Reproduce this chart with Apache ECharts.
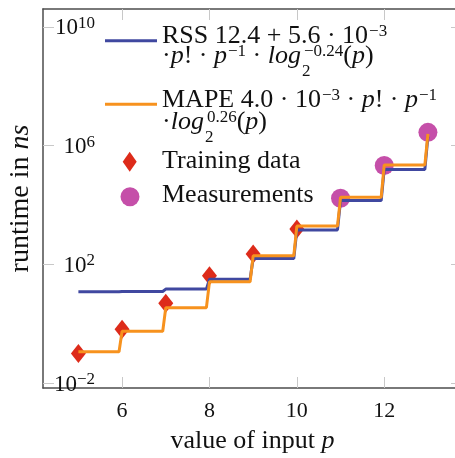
<!DOCTYPE html>
<html>
<head>
<meta charset="utf-8">
<script src="https://cdn.jsdelivr.net/npm/echarts@6/dist/echarts.min.js"></script>
<style>
  html, body { margin: 0; padding: 0; background: #fff; }
  #main { width: 455px; height: 458px; }
</style>
</head>
<body>
<div id="main"></div>
<script>
// value of input p for the two fitted models
const pFit = [5, 6, 7, 8, 9, 10, 11, 12, 13];
// runtime in ns
const rssFit = [12.0, 12.3, 14.8, 31.6, 158, 1450, 14100, 158000, 2.0e6];
const mapeFit = [0.115, 0.56, 3.5, 26, 195, 1950, 18200, 224000, 2.5e6];

const pTrain = [5, 6, 7, 8, 9, 10];
const trainValues = [0.1, 0.66, 4.9, 42, 224, 1550];

const pMeasure = [11, 12, 13];
const measureValues = [17000, 214000, 2.8e6];

const xTicks = [6, 8, 10, 12];
const yTickExponents = [-2, 2, 6, 10];

const serif = '"Liberation Serif", "DejaVu Serif", serif';
const ink = '#111';

// y axis is drawn in decades, so hand the library log10 of the runtime
function toPoints(ps, vals) {
  return ps.map((p, i) => [p, Math.log10(vals[i])]);
}

// the fits are piecewise constant between integer p, with a short rise just before the next p
function stepPoints(ps, vals) {
  const out = [];
  for (let i = 0; i < ps.length; i++) {
    out.push([ps[i], Math.log10(vals[i])]);
    if (i < ps.length - 1) out.push([ps[i] + 0.93, Math.log10(vals[i])]);
  }
  return out;
}

function minus(n) {
  return n < 0 ? '\u2212' + (-n) : String(n);
}

// rich text pieces: base, italic, superscript, subscript (sub is 1px wide so the sup stacks over it)
const fs = 26;
const textRich = {
  r: { fontFamily: serif, fontSize: fs, lineHeight: fs, verticalAlign: 'top', fill: ink },
  i: { fontFamily: serif, fontSize: fs, fontStyle: 'italic', lineHeight: fs, verticalAlign: 'top', fill: ink },
  s: { fontFamily: serif, fontSize: 17, lineHeight: fs, verticalAlign: 'top', padding: [0, 0, 0, 1], fill: ink },
  d: { fontFamily: serif, fontSize: 17, verticalAlign: 'top', padding: [20, 0, 0, 1], width: 1, fill: ink }
};

// legend entries: icon box (centre and size) and the text lines (top of each line)
const lineIcon = 'path://M0,0 H52 V3 H0 Z';
const legendEntries = [
  { name: 'RSS', icon: lineIcon, cx: 131, cy: 49.3, w: 52, h: 20, lines: [
    [23, '{r|RSS 12.4 + 5.6 · 10}{s|\u22123}'],
    [43, '{r|·}{i|p}{r|! · }{i|p}{s|\u22121}{r| · }{i|log}{d|2}{s|\u22120.24}{r|(}{i|p}{r|)}']
  ] },
  { name: 'MAPE', icon: lineIcon, cx: 131, cy: 112.7, w: 52, h: 20, lines: [
    [87, '{r|MAPE 4.0 · 10}{s|\u22123}{r| · }{i|p}{r|! · }{i|p}{s|\u22121}'],
    [109.5, '{r|·}{i|log}{d|2}{s|0.26}{r|(}{i|p}{r|)}']
  ] },
  { name: 'Training data', icon: 'path://M7,0 L14,10 L7,20 L0,10 Z', cx: 129.7, cy: 161.7, w: 14, h: 20, lines: [
    [148, '{r|Training data}']
  ] },
  { name: 'Measurements', icon: 'circle', cx: 130, cy: 196.7, w: 19, h: 19, lines: [
    [182, '{r|Measurements}']
  ] }
];

const textX = 162;

const legends = legendEntries.map(e => ({
  orient: 'vertical',
  left: e.cx - e.w / 2,
  top: e.cy - e.h / 2,
  padding: 0,
  itemWidth: e.w,
  itemHeight: e.h,
  formatter: () => '',
  textStyle: { fontSize: 1, lineHeight: 1 },
  data: [{ name: e.name, icon: e.icon }]
}));

const legendTexts = [];
legendEntries.forEach(e => {
  e.lines.forEach(([y, text]) => {
    legendTexts.push({
      type: 'text', x: textX, y: y, z: 100,
      style: { text: text, rich: textRich, align: 'left', verticalAlign: 'top' }
    });
  });
});

const chart = echarts.init(document.getElementById('main'));

const axisLine = { show: true, onZero: false, lineStyle: { color: '#4d4d4d', width: 1.5 } };
const tickStyle = { color: '#c8c8c8', width: 1 };

const option = {
  animation: false,
  backgroundColor: '#fff',
  grid: { left: 43, right: -7, top: 9, bottom: 70, containLabel: false, outerBoundsMode: 'none' },
  legend: legends,
  graphic: legendTexts,
  xAxis: [
    {
      type: 'value', min: 4.19, max: 13.78, position: 'bottom',
      axisLine: axisLine,
      axisTick: { inside: true, length: 11, lineStyle: tickStyle, customValues: xTicks },
      axisLabel: { customValues: xTicks, margin: 12, fontFamily: serif, fontSize: 22, color: ink },
      splitLine: { show: false },
      name: '{r|value of input }{i|p}',
      nameLocation: 'middle',
      nameGap: 40,
      nameTextStyle: {
        rich: {
          r: { fontFamily: serif, fontSize: 26, color: ink },
          i: { fontFamily: serif, fontSize: 26, fontStyle: 'italic', color: ink }
        }
      }
    },
    {
      type: 'value', min: 4.19, max: 13.78, position: 'top',
      axisLine: axisLine,
      axisTick: { inside: true, length: 11, lineStyle: tickStyle, customValues: xTicks },
      axisLabel: { show: false },
      splitLine: { show: false }
    }
  ],
  yAxis: [
    {
      type: 'value', min: -2.16, max: 10.6, position: 'left',
      axisLine: axisLine,
      axisTick: { inside: true, length: 11, lineStyle: tickStyle, customValues: yTickExponents },
      axisLabel: {
        customValues: yTickExponents,
        margin: -52,
        formatter: v => '{b|10}{s|' + minus(Math.round(v)) + '}',
        rich: {
          b: { fontFamily: serif, fontSize: 23, lineHeight: 24, verticalAlign: 'top', padding: [2, 0, 0, 0], color: ink },
          s: { fontFamily: serif, fontSize: 17, lineHeight: 24, verticalAlign: 'top', color: ink }
        }
      },
      splitLine: { show: false },
      name: '{r|runtime in }{i|ns}',
      nameLocation: 'middle',
      nameGap: 8,
      nameTextStyle: {
        rich: {
          r: { fontFamily: serif, fontSize: 28, color: ink },
          i: { fontFamily: serif, fontSize: 28, fontStyle: 'italic', color: ink }
        }
      }
    },
    {
      type: 'value', min: -2.16, max: 10.6, position: 'right',
      axisLine: axisLine,
      axisTick: { inside: true, length: 11, lineStyle: tickStyle, customValues: yTickExponents },
      axisLabel: { show: false },
      splitLine: { show: false }
    }
  ],
  series: [
    {
      name: 'RSS', type: 'line', symbol: 'none', showSymbol: false,
      data: stepPoints(pFit, rssFit),
      lineStyle: { color: '#4048a0', width: 3 },
      itemStyle: { color: '#4048a0' }
    },
    {
      name: 'MAPE', type: 'line', symbol: 'none', showSymbol: false,
      data: stepPoints(pFit, mapeFit),
      lineStyle: { color: '#f7921e', width: 3 },
      itemStyle: { color: '#f7921e' }
    },
    {
      name: 'Training data', type: 'scatter', symbol: 'diamond', symbolSize: [15, 19],
      data: toPoints(pTrain, trainValues),
      itemStyle: { color: '#dd2b1a', opacity: 1 }
    },
    {
      name: 'Measurements', type: 'scatter', symbol: 'circle', symbolSize: 19,
      data: toPoints(pMeasure, measureValues),
      itemStyle: { color: '#c54fa9', opacity: 1 }
    }
  ]
};

chart.setOption(option);
</script>
</body>
</html>
